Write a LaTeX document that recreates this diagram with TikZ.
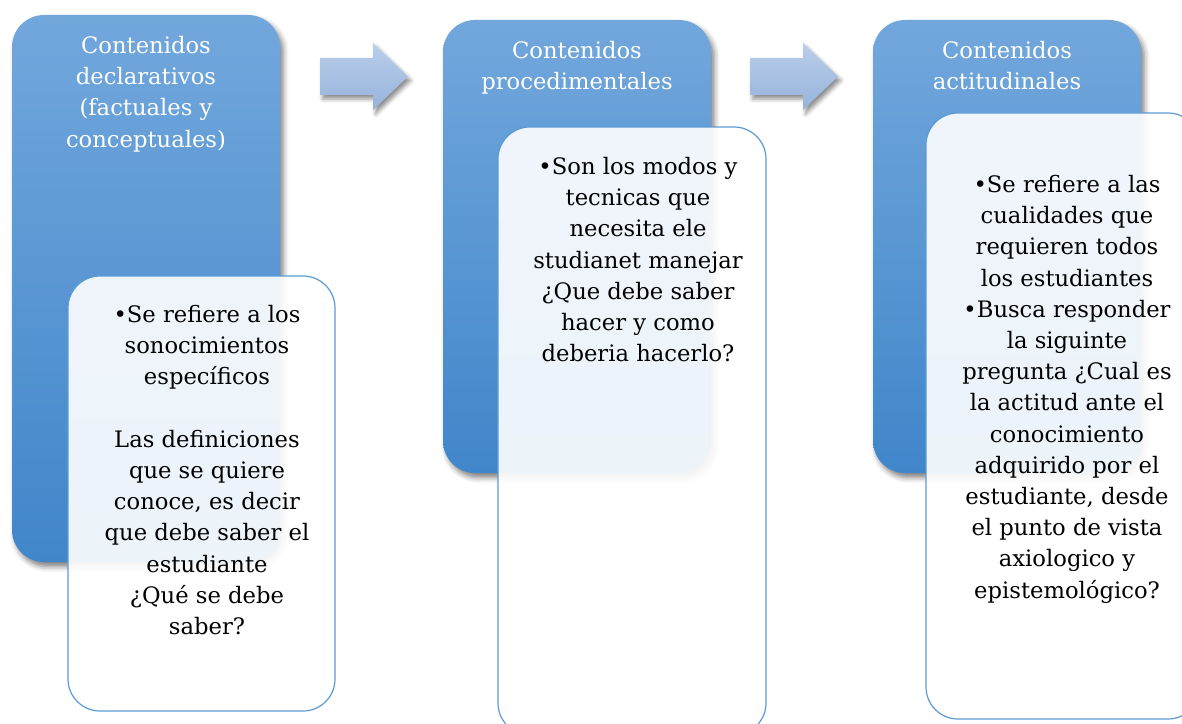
\documentclass[tikz,border=0pt]{standalone}
\usepackage{fontspec}
\setmainfont{DejaVu Serif}
\usetikzlibrary{shadows.blur}
\definecolor{bluetop}{RGB}{114,167,220}
\definecolor{bluebot}{RGB}{64,134,202}
\definecolor{edgeblue}{RGB}{91,155,213}
\definecolor{arrtop}{RGB}{186,206,234}
\definecolor{arrbot}{RGB}{150,179,220}
\tikzset{
 bluebox/.style={rectangle, rounded corners=24pt, top color=bluetop, bottom color=bluebot, draw=none, inner sep=0pt,
   blur shadow={shadow xshift=2.5pt, shadow yshift=-3.5pt, shadow blur radius=4pt, shadow opacity=50}},
 whitebox/.style={rectangle, rounded corners=24pt, fill=white, fill opacity=0.9, draw=edgeblue, line width=0.9pt, inner sep=0pt},
 titletext/.style={anchor=north, align=center, text=white, inner sep=0pt, font=\fontsize{17}{23.4}\selectfont},
 bodytext/.style={anchor=north, align=center, text=black, inner sep=0pt, font=\fontsize{17}{23.4}\selectfont},
 arrowshape/.style={top color=arrtop, bottom color=arrbot, draw=none,
   blur shadow={shadow xshift=2pt, shadow yshift=-3pt, shadow blur radius=3pt, shadow opacity=45}}
}
\begin{document}
\begin{tikzpicture}[x=0.75pt,y=-0.75pt]
\useasboundingbox (0,0) rectangle (1182,724);
% blue boxes
\node[bluebox, minimum width=201pt, minimum height=410.25pt] (b1) at (146,288.5) {};
\node[bluebox, minimum width=201pt, minimum height=339.75pt] (b2) at (577,246.5) {};
\node[bluebox, minimum width=201pt, minimum height=339.75pt] (b3) at (1007,246.5) {};
% arrows
\path[arrowshape] (320,58) -- (373,58) -- (373,43) -- (408,76.5) -- (373,110) -- (373,95) -- (320,95) -- cycle;
\path[arrowshape] (750,58) -- (803,58) -- (803,43) -- (838,76.5) -- (803,110) -- (803,95) -- (750,95) -- cycle;
% white boxes
\node[whitebox, minimum width=200.25pt, minimum height=326.25pt] (w1) at (201.5,493.5) {};
\node[whitebox, minimum width=201pt, minimum height=456pt] (w2) at (632,431) {};
\node[whitebox, minimum width=205.5pt, minimum height=454.5pt] (w3) at (1063,416) {};
% titles
\node[titletext] (t1) at (146,36) {Contenidos\\declarativos\\(factuales y\\conceptuales)};
\node[titletext] (t2) at (577,41) {Contenidos\\procedimentales};
\node[titletext] (t3) at (1007,41) {Contenidos\\actitudinales};
% bodies
\node[bodytext] (x1) at (207,305) {•Se refiere a los\\sonocimientos\\específicos\\[23.4pt]Las definiciones\\que se quiere\\conoce, es decir\\que debe saber el\\estudiante\\¿Qué se debe\\saber?};
\node[bodytext] (x2) at (638,157) {•Son los modos y\\tecnicas que\\necesita ele\\studianet manejar\\¿Que debe saber\\hacer y como\\deberia hacerlo?};
\node[bodytext] (x3) at (1067,175) {•Se refiere a las\\cualidades que\\requieren todos\\los estudiantes\\•Busca responder\\la siguinte\\pregunta ¿Cual es\\la actitud ante el\\conocimiento\\adquirido por el\\estudiante, desde\\el punto de vista\\axiologico y\\epistemológico?};
\end{tikzpicture}
\end{document}
